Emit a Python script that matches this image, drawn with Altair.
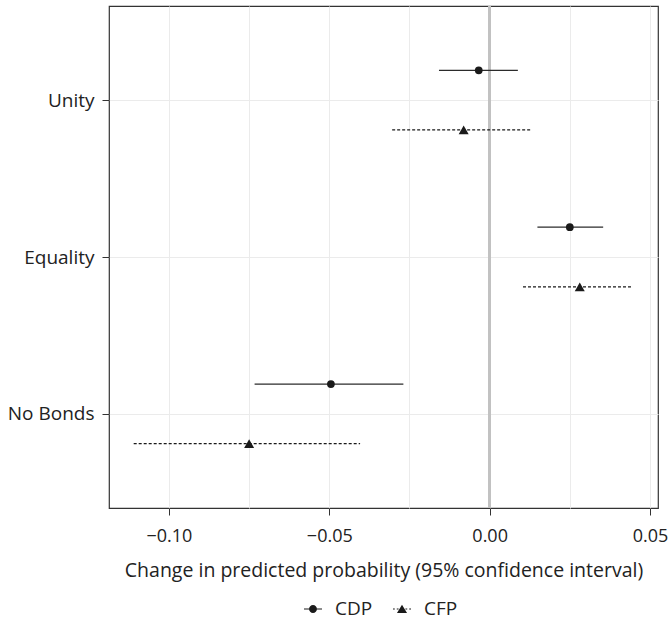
import altair as alt
import pandas as pd

# Outcome categories (top to bottom) and parties
categories = ["Unity", "Equality", "No Bonds"]
parties = ["CDP", "CFP"]

# Change in predicted probability with 95% confidence bounds
cdp_est = [-0.0034, 0.0250, -0.0495]
cdp_lo = [-0.0158, 0.0149, -0.0733]
cdp_hi = [0.0088, 0.0354, -0.0269]

cfp_est = [-0.0081, 0.0281, -0.0750]
cfp_lo = [-0.0304, 0.0104, -0.1110]
cfp_hi = [0.0130, 0.0447, -0.0404]

x_ticks = [-0.1, -0.05, 0, 0.05]
x_grid = [-0.1, -0.075, -0.05, -0.025, 0, 0.025, 0.05]

rows = []
for party, est, lo, hi in [("CDP", cdp_est, cdp_lo, cdp_hi), ("CFP", cfp_est, cfp_lo, cfp_hi)]:
    for i, cat in enumerate(categories):
        rows.append({"category": cat, "rank": len(categories) - i,
                     "party": party, "est": est[i], "lo": lo[i], "hi": hi[i]})
df = pd.DataFrame(rows)

FONT = "Open Sans"
INK = "#1a1a1a"

x_scale = alt.Scale(domain=[-0.1187, 0.0525], nice=False, zero=False)
y_scale = alt.Scale(domain=[0.4, 3.6], nice=False, zero=False)

major = " || ".join(f"datum.value == {v}" for v in x_ticks)
cat_expr = " : ".join(
    f"datum.value == {len(categories) - i} ? '{c}'" for i, c in enumerate(categories[:-1])
) + f" : '{categories[-1]}'"

x_axis = alt.Axis(
    values=x_grid, format=".2f", labelExpr=f"({major}) ? datum.label : ''",
    tickOpacity={"condition": {"test": major, "value": 1}, "value": 0},
    title="Change in predicted probability (95% confidence interval)",
)
y_axis = alt.Axis(values=[1, 2, 3], labelExpr=cat_expr, title=None)

base = alt.Chart(df).transform_calculate(
    ypos="datum.rank + (datum.party == 'CDP' ? 0.19 : -0.19)"
)
X = lambda f: alt.X(f, scale=x_scale, axis=x_axis)
Y = alt.Y("ypos:Q", scale=y_scale, axis=y_axis)

zero = alt.Chart(df).mark_rule(color="#c2c2c2", strokeWidth=2.5).encode(
    x=alt.datum(0, scale=x_scale, axis=x_axis)
)

# Confidence intervals: solid for CDP, dashed for CFP
ci_cdp = base.transform_filter("datum.party == 'CDP'").mark_rule(
    color="#2b2b2b", strokeWidth=1.2
).encode(x=X("lo:Q"), x2="hi:Q", y=Y)
ci_cfp = base.transform_filter("datum.party == 'CFP'").mark_rule(
    color="#1a1a1a", strokeWidth=1.2, strokeDash=[3, 2]
).encode(x=X("lo:Q"), x2="hi:Q", y=Y)

# Point estimates
pt_cdp = base.transform_filter("datum.party == 'CDP'").mark_point(
    shape="circle", filled=True, opacity=1, color=INK, size=60
).encode(x=X("est:Q"), y=Y)
pt_cfp = base.transform_filter("datum.party == 'CFP'").mark_point(
    shape="triangle-up", filled=True, opacity=1, color=INK, size=100
).encode(x=X("est:Q"), y=Y)


# Legend keys: a thin bar (solid or broken) with the marker on it, all filled
def bar(x0, x1, h=0.065):
    return f"M{x0},{-h}H{x1}V{h}H{x0}Z"


key_cdp = bar(-1, 1) + "M0.44,0A0.44,0.44,0,1,1,-0.44,0A0.44,0.44,0,1,1,0.44,0Z"
key_cfp = ("".join(bar(a, b) for a, b in [(-1, -0.8), (-0.58, -0.38), (0.38, 0.58), (0.8, 1)])
           + "M0,-0.46L0.56,0.44L-0.56,0.44Z")

key = base.transform_filter("false").mark_point(
    filled=True, opacity=1, color=INK, size=324
).encode(
    x=X("est:Q"), y=Y,
    shape=alt.Shape(
        "party:N", scale=alt.Scale(domain=parties, range=[key_cdp, key_cfp]),
        legend=alt.Legend(
            title=None, orient="none", direction="horizontal",
            legendX=194, legendY=593,
            symbolSize=324, symbolFillColor=INK, symbolOpacity=1,
            labelFontSize=19, labelFont=FONT, labelColor="#222",
            columnPadding=17, labelOffset=12,
        ),
    ),
)

chart = alt.layer(zero, ci_cdp, ci_cfp, pt_cdp, pt_cfp, key).properties(
    width=549, height=502,
    autosize=alt.AutoSizeParams(type="none"),
    padding={"left": 109, "top": 6, "right": 10, "bottom": 113},
).configure_view(
    stroke="#333333", strokeWidth=1.2
).configure_axis(
    labelFont=FONT, titleFont=FONT, titleFontSize=19.5,
    titleFontWeight="normal", labelColor="#222", titleColor="#222",
    domain=False, grid=True, gridColor="#ebebeb", gridWidth=1,
    tickColor="#333333", tickSize=7, tickWidth=1,
).configure_axisX(
    labelFontSize=18, labelPadding=12, titlePadding=16,
).configure_axisY(
    labelFontSize=19, labelPadding=8,
)

chart.save("out.html", embed_options={"renderer": "svg", "actions": False})
